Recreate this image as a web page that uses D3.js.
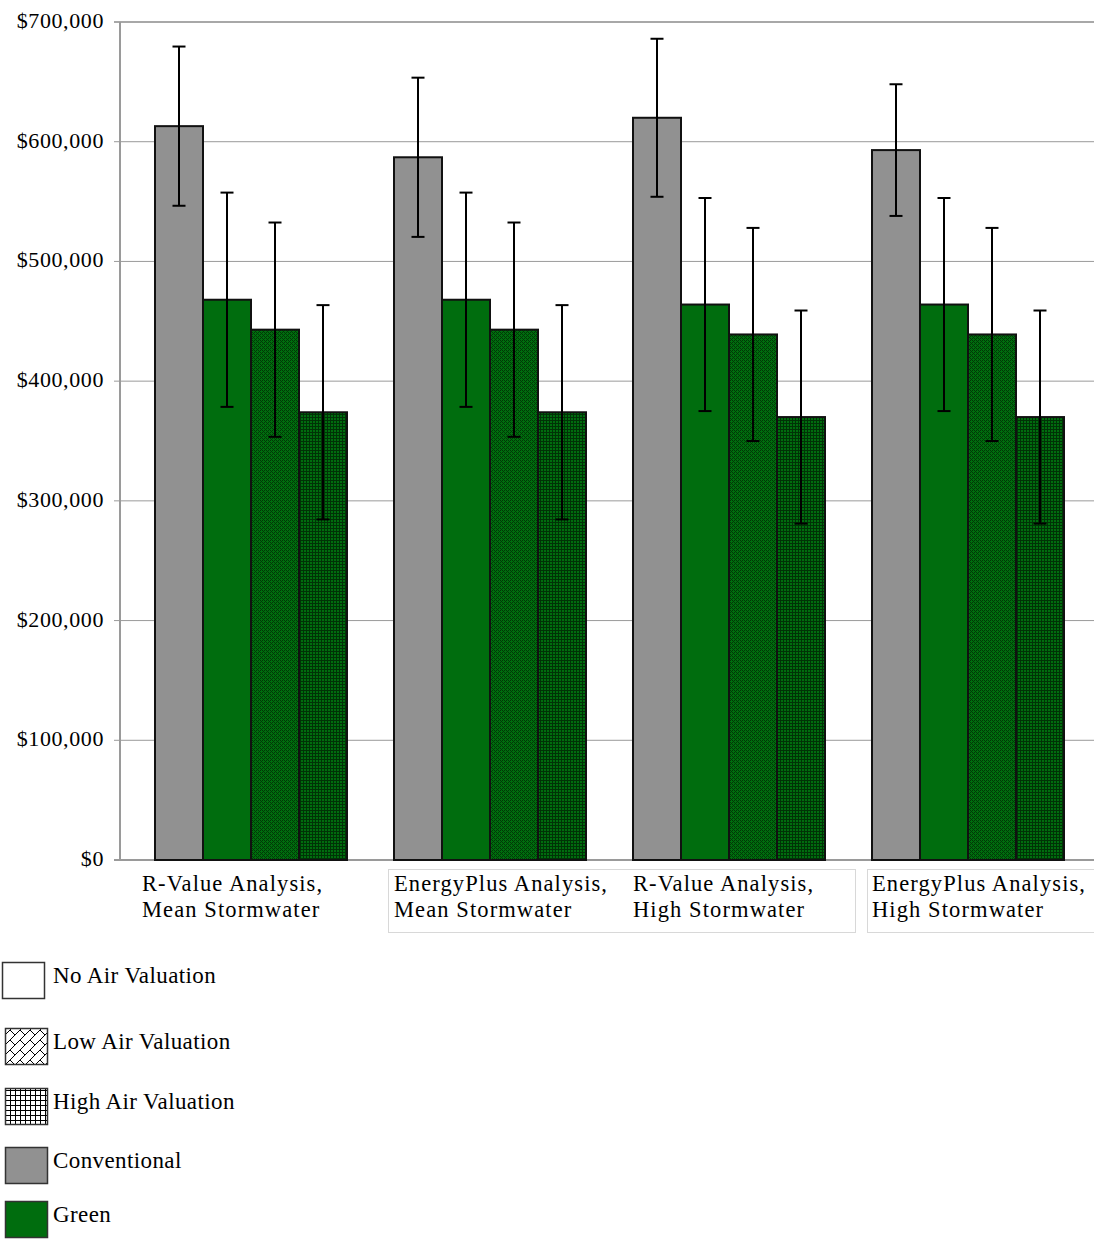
<!DOCTYPE html>
<html><head><meta charset="utf-8">
<script src="https://cdn.jsdelivr.net/npm/d3@7"></script>
<style>body{margin:0;background:#fff;} svg{display:block;}</style>
</head><body>
<script>
const categories = ["R-Value Analysis,|Mean Stormwater","EnergyPlus Analysis,|Mean Stormwater","R-Value Analysis,|High Stormwater","EnergyPlus Analysis,|High Stormwater"];
const seriesNames = ["Conventional","Green","Green, Low Air Valuation","Green, High Air Valuation"];
const conventional = [613000, 587000, 620000, 593000];
const green = [468000, 468000, 464000, 464000];
const greenLowAir = [443000, 443000, 439000, 439000];
const greenHighAir = [374000, 374000, 370000, 370000];
const errConventional = [66500, 66500, 66000, 55000];
const errGreen = [89500, 89500, 89000, 89000];
const errLowAir = [89500, 89500, 89000, 89000];
const errHighAir = [89500, 89500, 89000, 89000];
const yTicks = [0,100000,200000,300000,400000,500000,600000,700000];
const legendItems = ["No Air Valuation","Low Air Valuation","High Air Valuation","Conventional","Green"];

(function(){
const W=1094,H=1239;
const svg=d3.select("body").append("svg").attr("width",W).attr("height",H);
const defs=svg.append("defs");
const GREEN="#006d0e", GRAY="#919191";
const pl=defs.append("pattern").attr("id","lowBar").attr("width",4).attr("height",4).attr("patternUnits","userSpaceOnUse");
pl.append("rect").attr("width",4).attr("height",4).attr("fill",GREEN);
[[0,0],[1,1],[2,2],[3,3],[2,0],[0,2]].forEach(([x,y])=>pl.append("rect").attr("x",x).attr("y",y).attr("width",1).attr("height",1).attr("fill","#003a06"));
const ph=defs.append("pattern").attr("id","highBar").attr("width",3).attr("height",3).attr("patternUnits","userSpaceOnUse");
ph.append("rect").attr("width",3).attr("height",3).attr("fill",GREEN);
ph.append("rect").attr("width",3).attr("height",1).attr("fill","#003306");
ph.append("rect").attr("width",1).attr("height",3).attr("fill","#003306");
const lp=defs.append("pattern").attr("id","lowLeg").attr("width",10).attr("height",10).attr("patternUnits","userSpaceOnUse");
lp.append("rect").attr("width",10).attr("height",10).attr("fill","#fff");
lp.append("path").attr("d","M0,10 L10,0 M-2,2 L2,-2 M8,12 L12,8 M0,0 L5,5").attr("stroke","#000").attr("stroke-width",1);
const hp=defs.append("pattern").attr("id","highLeg").attr("width",5).attr("height",5).attr("patternUnits","userSpaceOnUse");
hp.append("rect").attr("width",5).attr("height",5).attr("fill","#fff");
hp.append("path").attr("d","M0,0.5 H5 M0.5,0 V5").attr("stroke","#000").attr("stroke-width",1);

const plotTop=22,plotBottom=860,plotLeft=120;
const y=d3.scaleLinear().domain([0,700000]).range([plotBottom,plotTop]);
const x0=d3.scaleBand().domain(categories).range([131.5,1087.5]).padding(0);
const x1=d3.scaleBand().domain(seriesNames).range([x0.bandwidth()/2-96,x0.bandwidth()/2+96]).padding(0);

svg.append("g").selectAll("line").data(yTicks.filter(t=>t>0&&t<700000)).join("line")
 .attr("x1",114).attr("x2",W).attr("y1",d=>y(d)).attr("y2",d=>y(d)).attr("stroke","#9a9a9a").attr("stroke-width",1);
svg.append("line").attr("x1",114).attr("x2",W).attr("y1",y(700000)).attr("y2",y(700000)).attr("stroke","#a8a8a8").attr("stroke-width",2);
svg.append("line").attr("x1",114).attr("x2",W).attr("y1",y(0)).attr("y2",y(0)).attr("stroke","#9a9a9a").attr("stroke-width",2);
svg.append("line").attr("x1",plotLeft).attr("x2",plotLeft).attr("y1",plotTop).attr("y2",plotBottom).attr("stroke","#9a9a9a").attr("stroke-width",2);

const fmt=d=>"$"+d3.format(",")(d);
svg.append("g").selectAll("text").data(yTicks).join("text")
 .attr("x",104).attr("y",d=>y(d)+6).attr("text-anchor","end")
 .style("font-family","Liberation Serif").style("font-size","22px").style("letter-spacing","0.6px")
 .text(fmt);

const values=[conventional,green,greenLowAir,greenHighAir];
const errs=[errConventional,errGreen,errLowAir,errHighAir];
const fills=[GRAY,GREEN,"url(#lowBar)","url(#highBar)"];
const data=[];
categories.forEach((c,i)=>seriesNames.forEach((s,j)=>data.push({c,s,v:values[j][i],e:errs[j][i],f:fills[j]})));

svg.append("g").selectAll("rect").data(data).join("rect")
 .attr("x",d=>x0(d.c)+x1(d.s)).attr("y",d=>y(d.v)).attr("width",x1.bandwidth()).attr("height",d=>y(0)-y(d.v))
 .attr("fill",d=>d.f).attr("stroke","#111").attr("stroke-width",2);
const eb=svg.append("g").attr("stroke","#000").attr("stroke-width",2);
data.forEach(d=>{
  const cx=x0(d.c)+x1(d.s)+x1.bandwidth()/2;
  eb.append("line").attr("x1",cx).attr("x2",cx).attr("y1",y(d.v+d.e)).attr("y2",y(d.v-d.e));
  eb.append("line").attr("x1",cx-6.5).attr("x2",cx+6.5).attr("y1",y(d.v+d.e)).attr("y2",y(d.v+d.e));
  eb.append("line").attr("x1",cx-6.5).attr("x2",cx+6.5).attr("y1",y(d.v-d.e)).attr("y2",y(d.v-d.e));
});

svg.append("rect").attr("x",388.5).attr("y",869.5).attr("width",467).attr("height",63).attr("fill","none").attr("stroke","#d8d8d8");
svg.append("rect").attr("x",867.5).attr("y",869.5).attr("width",240).attr("height",63).attr("fill","none").attr("stroke","#d8d8d8");
categories.forEach((c,i)=>{
  const bx=x0(c)+x1(seriesNames[0]) - (i===0?13:0);
  const t=svg.append("text").attr("x",bx).attr("y",891)
   .style("font-family","Liberation Serif").style("font-size","22.5px").style("letter-spacing","1.1px");
  c.split("|").forEach((ln,k)=>t.append("tspan").attr("x",bx).attr("dy",k?26:0).text(ln));
});

const legFills=["#fff","url(#lowLeg)","url(#highLeg)",GRAY,GREEN];
const legY=[962,1028,1088,1147,1201];
const legX=[2,5,5,5,5];
legendItems.forEach((name,i)=>{
  svg.append("rect").attr("x",legX[i]+0.5).attr("y",legY[i]+0.5).attr("width",42).attr("height",36)
   .attr("fill",legFills[i]).attr("stroke","#333").attr("stroke-width",1.5);
  svg.append("text").attr("x",53).attr("y",legY[i]+21)
   .style("font-family","Liberation Serif").style("font-size","23px").style("letter-spacing","0.4px")
   .text(name);
});
})();
</script>
</body></html>
